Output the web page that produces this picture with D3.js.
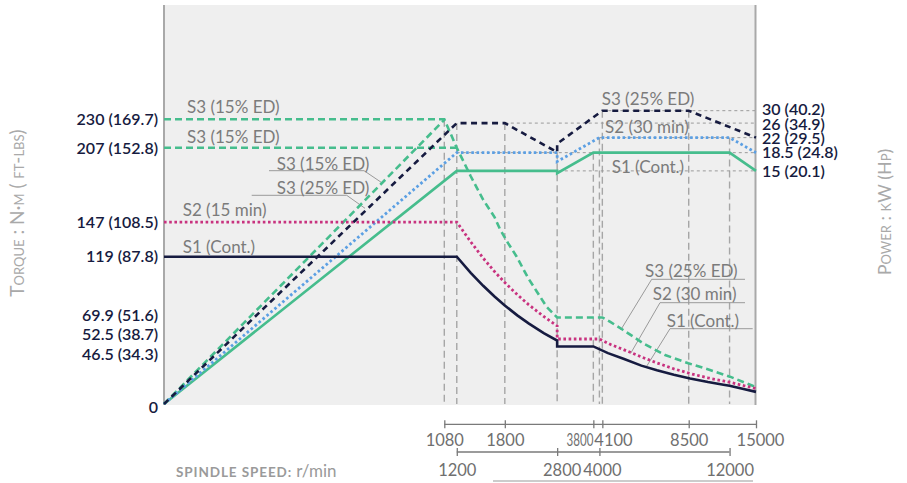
<!DOCTYPE html>
<html><head><meta charset="utf-8">
<script src="https://cdn.jsdelivr.net/npm/d3@7/dist/d3.min.js"></script>
<style>
body{margin:0;background:#fff;}
svg{display:block;font-family:Lato,"Noto Sans",sans-serif;}
</style></head><body>
<svg id="c" width="907" height="483"></svg>
<script>
// ---------------- DATA ----------------
const speedTicksTop = [1080, 1800, 3800, 4100, 8500, 15000];
const speedTicksBottom = [1200, 2800, 4000, 12000];
const torqueTicks = [230, 207, 147, 119, 69.9, 52.5, 46.5, 0];
const torqueTickLabels = ["230 (169.7)", "207 (152.8)", "147 (108.5)", "119 (87.8)", "69.9 (51.6)", "52.5 (38.7)", "46.5 (34.3)", "0"];
const powerTicks = [30, 26, 22, 18.5, 15];
const powerTickLabels = ["30 (40.2)", "26 (34.9)", "22 (29.5)", "18.5 (24.8)", "15 (20.1)"];

// torque curves [r/min, N·m]
const s1Torque = [[0,119],[1200,119],[1350,106],[1500,95.5],[1650,86.8],[1800,79.6],[2000,71.6],[2200,65.1],[2500,57.3],[2800,51.2],[2800,46.5],[3800,46.5],[4300,41.1],[4900,36.5],[5700,31],[6500,27.2],[7500,23.6],[8600,20.6],[10000,17.7],[11400,15.6],[12000,14.8],[13500,12.1],[15000,9.8]];
const s2Torque = [[0,147],[1200,147],[1350,131],[1500,117.8],[1650,107],[1800,98.1],[2000,88.3],[2200,80.3],[2500,70.7],[2800,63.1],[2800,52.5],[4000,52.5],[4400,48],[4900,44],[5700,38],[6500,33.2],[7500,28.4],[8600,24.6],[10000,21.1],[11400,18.6],[12000,17.6],[13500,14.9],[15000,12.5]];
const s3Torque = [[0,230],[1080,230],[1200,207],[1350,184],[1500,165],[1650,151],[1730,141],[1850,130],[1990,119],[2195,101.5],[2360,90.7],[2560,78.6],[2800,69.9],[4100,69.9],[4370,66.5],[4890,59.8],[5790,49],[6960,39.6],[8470,32.9],[10170,27.5],[12040,22.1],[14660,14.5],[15000,13.8]];
const s3Torque207 = [[0,207],[1200,207]];

// power curves [r/min, kW]
const s1Power = [[0,0],[1200,15],[2800,15],[2800,14.6],[3800,18.5],[12000,18.5],[15000,15]];
const s2Power = [[0,0],[1200,18.5],[2800,18.5],[2800,16.7],[4000,22],[12000,22],[15000,18.5]];
const s3Power25 = [[0,0],[1200,26],[1800,26],[2800,18.6],[2800,20.5],[4100,30],[8500,30],[15000,22]];
const s3Power15 = [[0,0],[1080,27]];

// reference guides
const refSpeeds = [1080, 1200, 1800, 2800, 3800, 4000, 4100, 8500, 12000];
const refTopKW  = [27, 26, 26, 18.6, 18.5, 22, 30, 30, 22];
const powerRefKW   = [30, 26, 22, 18.5, 15];
const powerRefFrom = [4100, 1800, 4000, 1200, 1200];

const annoText = ["S3 (15% ED)","S3 (15% ED)","S3 (15% ED)","S3 (25% ED)","S2 (15 min)","S1 (Cont.)",
                  "S3 (25% ED)","S2 (30 min)","S1 (Cont.)","S3 (25% ED)","S2 (30 min)","S1 (Cont.)"];

// ---------------- LAYOUT ----------------
const annoPos = [[187,112.5],[187,143.3],[276.7,169.5],[276.7,194],[182.7,216],[182.7,252.5],
                 [601.7,104.5],[605,133],[611.7,172.5],[645,276.5],[652.7,300],[666.7,326.5]];
const leaders = [
  [[269,170.7],[364,170.7],[382.7,183.3]],
  [[251.7,195.3],[346.7,195.3],[365,208.3]],
  [[745,279.3],[651.7,279.3],[620.7,330]],
  [[745,302.7],[660,302.7],[630.7,353.3]],
  [[752.7,328.7],[670,328.7],[646,367.3]]
];

const NAVY="#161b40", GREEN="#46bd8d", MAGENTA="#c8327f", BLUE="#5b9fe3";
const svg = d3.select("#c");

const X0=164, XB=444.3, X1=756;
const xLin = d3.scaleLinear().domain([0,1080]).range([X0,XB]);
const xLog = d3.scaleLog().domain([1080,15000]).range([XB,X1]);
const x = n => n <= 1080 ? xLin(n) : xLog(n);
const yT = d3.scaleLinear().domain([0,230]).range([404,119.3]);
const yPl = d3.scaleLog().domain([1,100]).range([406.1,6.1]);
const yP = p => p <= 0 ? yT(0) : yPl(p);

// background
svg.append("rect").attr("x",163).attr("y",5).attr("width",593).attr("height",400).attr("fill","#efefef");
[164,755.5].forEach(bx=>svg.append("line").attr("x1",bx).attr("x2",bx).attr("y1",5).attr("y2",405)
  .attr("stroke","#a9a9a9").attr("stroke-width",2));

// vertical guides
svg.append("g").selectAll("line").data(refSpeeds.map((s,i)=>[s,refTopKW[i]])).join("line")
  .attr("x1",d=>x(d[0])).attr("x2",d=>x(d[0])).attr("y1",d=>yP(d[1])).attr("y2",yT(0))
  .attr("stroke","#a6a6a6").attr("stroke-width",1.4).attr("stroke-dasharray","7,4");
// horizontal guides
svg.append("g").selectAll("line").data(powerRefKW.map((p,i)=>[p,powerRefFrom[i]])).join("line")
  .attr("x1",d=>x(d[1])).attr("x2",x(15000)-1).attr("y1",d=>yP(d[0])).attr("y2",d=>yP(d[0]))
  .attr("stroke","#9a9a9a").attr("stroke-width",1).attr("stroke-dasharray","3,3");

// leaders
svg.append("g").selectAll("polyline").data(leaders).join("polyline")
  .attr("points",d=>d.map(p=>p.join(",")).join(" "))
  .attr("fill","none").attr("stroke","#9a9a9a").attr("stroke-width",1);

const lineT = d3.line().x(d=>x(d[0])).y(d=>yT(d[1]));
const lineP = d3.line().x(d=>x(d[0])).y(d=>yP(d[1]));
const series = [
  {d:s3Power15, f:lineP, c:GREEN, dash:"7,4", w:2.6},
  {d:s3Torque207, f:lineT, c:GREEN, dash:"7,4", w:2.6},
  {d:s3Torque, f:lineT, c:GREEN, dash:"7,4", w:2.6},
  {d:s1Power, f:lineP, c:GREEN, dash:null, w:2.6},
  {d:s2Power, f:lineP, c:BLUE, dash:"2.6,2.6", w:2.8},
  {d:s2Torque, f:lineT, c:MAGENTA, dash:"2.6,2.6", w:2.8},
  {d:s3Power25, f:lineP, c:NAVY, dash:"6,4.5", w:2.6},
  {d:s1Torque, f:lineT, c:NAVY, dash:null, w:2.6}
];
svg.append("g").selectAll("path").data(series).join("path")
  .attr("d",s=>s.f(s.d)).attr("fill","none").attr("stroke",s=>s.c)
  .attr("stroke-width",s=>s.w).attr("stroke-dasharray",s=>s.dash)
  .attr("stroke-linejoin","miter");

// annotations
svg.append("g").selectAll("text").data(annoText).join("text")
  .attr("x",(d,i)=>annoPos[i][0]).attr("y",(d,i)=>annoPos[i][1])
  .attr("font-size",17).attr("fill","#7b7b7b").text(d=>d);

// label dodge
function dodge(ys, gap){
  let g = ys.map((y,i)=>({ys:[y], idx:[i]}));
  const c = G => d3.mean(G.ys);
  let changed = true;
  while(changed){
    changed=false;
    for(let i=0;i<g.length-1;i++){
      const a=g[i], b=g[i+1];
      const aB = c(a)+(a.ys.length-1)*gap/2, bT = c(b)-(b.ys.length-1)*gap/2;
      if(bT-aB < gap-0.01){ g.splice(i,2,{ys:a.ys.concat(b.ys), idx:a.idx.concat(b.idx)}); changed=true; break; }
    }
  }
  const out=[];
  g.forEach(G=>{const m=c(G); G.idx.forEach((k,j)=>out[k]=m+(j-(G.idx.length-1)/2)*gap);});
  return out;
}
const tY = dodge(torqueTicks.map(yT), 19.5);
svg.append("g").selectAll("text").data(torqueTickLabels).join("text")
  .attr("x",158).attr("y",(d,i)=>tY[i] + (torqueTicks[i]===0 ? 3 : 0)).attr("dy","0.36em").attr("text-anchor","end")
  .attr("font-size",16).attr("font-weight",600).attr("fill",NAVY).text(d=>d);
const pY = dodge(powerTicks.map(yP), 14.3);
svg.append("g").selectAll("text").data(powerTickLabels).join("text")
  .attr("x",762).attr("y",(d,i)=>pY[i]).attr("dy","0.36em")
  .attr("font-size",16).attr("font-weight",600).attr("fill",NAVY).text(d=>d);

// speed axes
function speedAxis(ticks, y0, pad){
  const g = svg.append("g").attr("transform",`translate(0,${y0})`)
    .call(d3.axisBottom(xLog).tickValues(ticks).tickFormat(d3.format("d")).tickSizeInner(4).tickSizeOuter(0).tickPadding(pad));
  g.select(".domain").remove();
  g.append("line").attr("x1",x(ticks[0])).attr("x2",x(ticks[ticks.length-1])).attr("stroke","#7a7a7a").attr("stroke-width",1.3);
  g.selectAll(".tick line").attr("y1",-4).attr("y2",4).attr("stroke","#7a7a7a").attr("stroke-width",1.3);
  g.selectAll(".tick text").attr("font-size",16.5).attr("fill","#6f6f6f").attr("font-family","Lato,'Noto Sans',sans-serif");
  return g;
}
const ax1 = speedAxis(speedTicksTop, 424.3, 6);
ax1.selectAll(".tick text").each(function(d){
  if(d===3800) d3.select(this).attr("text-anchor","end").attr("x",-0.5/0.7).attr("transform","scale(0.7,1)");
  if(d===4100) d3.select(this).attr("text-anchor","start").attr("x",-8.5);
  if(d===15000) d3.select(this).attr("x",4);
});
const ax2 = speedAxis(speedTicksBottom, 452, 8.3);
ax2.selectAll(".tick text").each(function(d){
  if(d===2800) d3.select(this).attr("x",4.5);
  if(d===4000) d3.select(this).attr("x",2.5);
});
svg.append("line").attr("x1",493).attr("x2",753).attr("y1",481).attr("y2",481).attr("stroke","#bbbbbb").attr("stroke-width",1.3);

// titles
svg.append("text").attr("transform","translate(17.3,213) rotate(-90)").attr("text-anchor","middle")
  .attr("dy","0.35em").attr("font-size",19).attr("fill","#a9a9a9").style("font-variant","small-caps")
  .text("Torque : N·m ( ft-lbs)");
svg.append("text").attr("transform","translate(885,212) rotate(-90)").attr("text-anchor","middle")
  .attr("dy","0.35em").attr("font-size",18).attr("fill","#a9a9a9").style("font-variant","small-caps")
  .text("Power : kW (Hp)");
const bt = svg.append("text").attr("x",176).attr("y",477).attr("fill","#9a9a9a");
bt.append("tspan").attr("font-size",13.5).attr("font-weight",700).attr("letter-spacing",0.9).text("SPINDLE SPEED: ");
bt.append("tspan").attr("font-size",17).text("r/min");
</script></body></html>
